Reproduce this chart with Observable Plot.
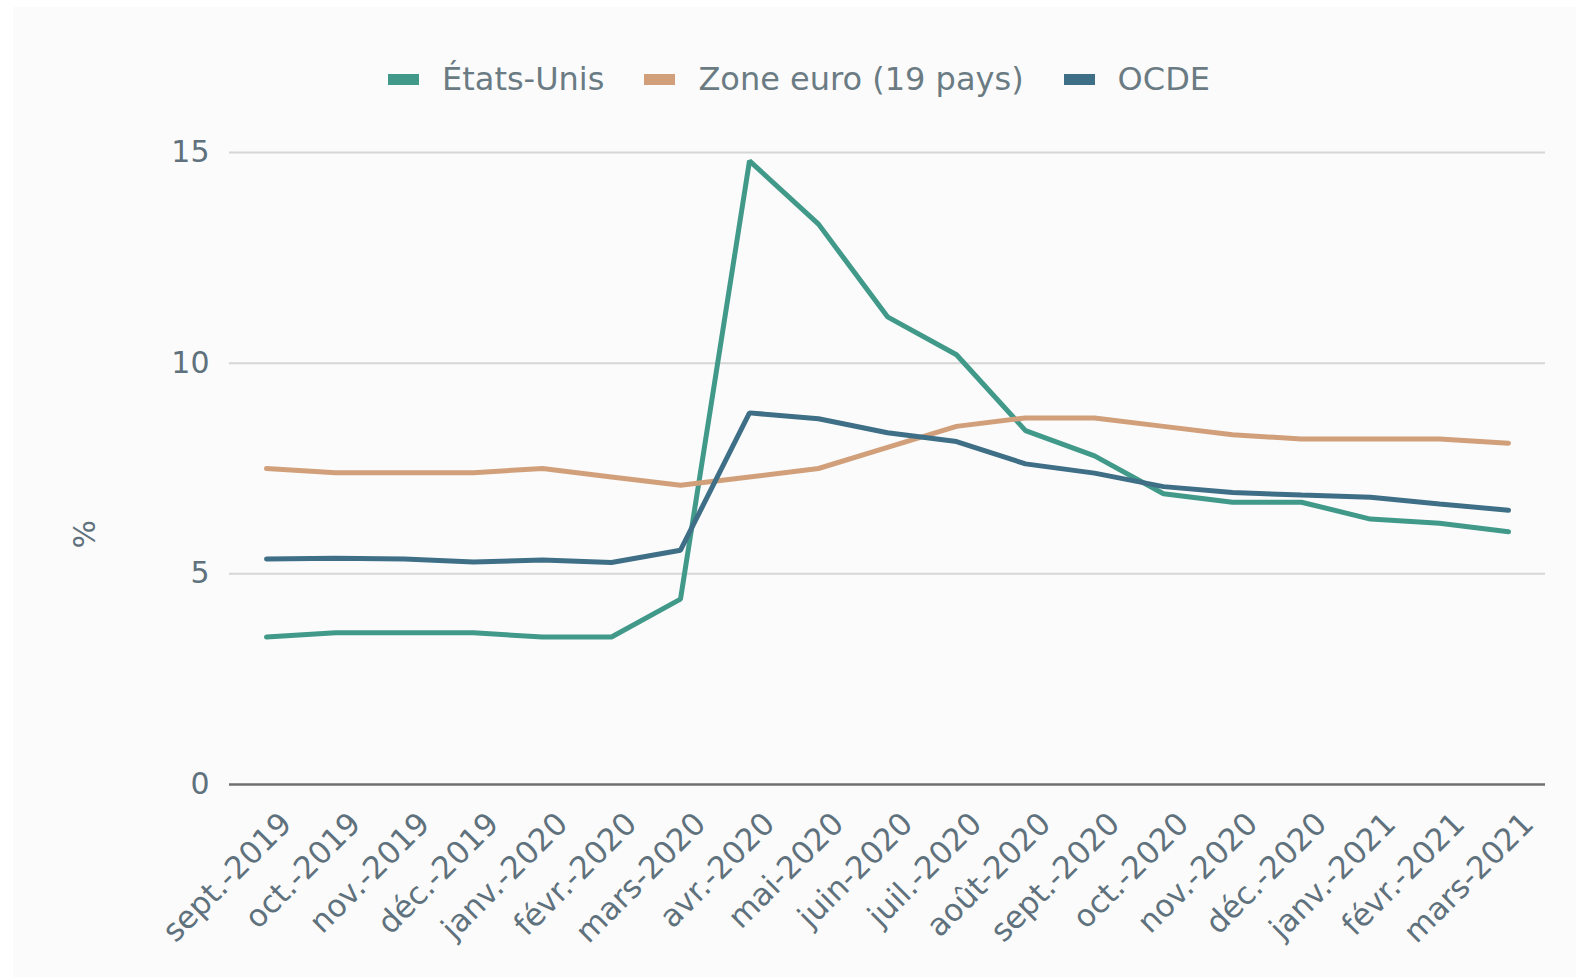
<!DOCTYPE html>
<html>
<head>
<meta charset="utf-8">
<script src="https://cdn.jsdelivr.net/npm/d3@7"></script>
<script src="https://cdn.jsdelivr.net/npm/@observablehq/plot@0.6"></script>
<style>
  html, body { margin: 0; padding: 0; background: #ffffff; }
  #panel { position: absolute; left: 13px; top: 7px; width: 1563px; height: 970px; background: #fbfbfb; }
  #wrap { position: absolute; left: 0; top: 0; width: 1576px; }
  #legend { height: 120px; display: flex; justify-content: center; align-items: flex-start; padding-left: 22px; padding-top: 59px; box-sizing: border-box;
    font-family: "DejaVu Sans", sans-serif; font-size: 32px; line-height: 40px; color: #6b7b83; }
  .item { display: flex; align-items: center; margin: 0 20px; }
  .sw { width: 31px; height: 11px; margin-right: 23px; }
  svg { display: block; }
</style>
</head>
<body>
<div id="panel"></div>
<div id="wrap">
  <div id="legend"></div>
  <div id="chart"></div>
</div>
<script>
const months = ["sept.-2019","oct.-2019","nov.-2019","déc.-2019","janv.-2020","févr.-2020","mars-2020","avr.-2020","mai-2020","juin-2020","juil.-2020","août-2020","sept.-2020","oct.-2020","nov.-2020","déc.-2020","janv.-2021","févr.-2021","mars-2021"];
const seriesNames = ["États-Unis","Zone euro (19 pays)","OCDE"];
const seriesColors = ["#41998a","#d1a07b","#3e6f86"];
const etatsUnis = [3.5,3.6,3.6,3.6,3.5,3.5,4.4,14.8,13.3,11.1,10.2,8.4,7.8,6.9,6.7,6.7,6.3,6.2,6.0];
const zoneEuro  = [7.5,7.4,7.4,7.4,7.5,7.3,7.1,7.3,7.5,8.0,8.5,8.7,8.7,8.5,8.3,8.2,8.2,8.2,8.1];
const ocde      = [5.35,5.37,5.35,5.28,5.33,5.27,5.56,8.82,8.68,8.35,8.14,7.61,7.39,7.07,6.93,6.87,6.82,6.66,6.51];
const yTicks = [0,5,10,15];

const seriesValues = [etatsUnis, zoneEuro, ocde];
const data = [];
seriesNames.forEach((s, i) => months.forEach((m, j) => data.push({series: s, month: m, value: seriesValues[i][j]})));

// legend
const legend = document.getElementById("legend");
seriesNames.forEach((s, i) => {
  const it = document.createElement("div"); it.className = "item";
  const sw = document.createElement("div"); sw.className = "sw"; sw.style.background = seriesColors[i];
  const tx = document.createElement("span"); tx.textContent = s;
  it.appendChild(sw); it.appendChild(tx); legend.appendChild(it);
});

const textColor = "#5e717c";
const chart = Plot.plot({
  width: 1576,
  height: 857,
  marginTop: 32,
  marginBottom: 193,
  marginLeft: 229,
  marginRight: 31,
  style: { background: "transparent", fontFamily: "DejaVu Sans, sans-serif", fontSize: "30px", color: textColor },
  x: { type: "point", domain: months, padding: 0.5, label: null },
  y: { domain: [0, 15], label: null },
  color: { domain: seriesNames, range: seriesColors },
  marks: [
    Plot.gridY(yTicks.filter(d => d > 0), { stroke: "#d6d6d6", strokeOpacity: 1, strokeWidth: 2 }),
    Plot.ruleY([0], { stroke: "#6f6f6f", strokeWidth: 2.5 }),
    Plot.axisY(yTicks, { tickSize: 0, tickPadding: 20, fontSize: 30, label: null, fill: textColor }),
    Plot.axisX(months, { tickSize: 0, tickRotate: -45, tickPadding: 12, dx: 20, dy: 22, fontSize: 31, label: null, fill: textColor }),
    Plot.line(data, { x: "month", y: "value", z: "series", stroke: "series", strokeWidth: 5, strokeLinejoin: "miter" }),
    Plot.text(["%"], { frameAnchor: "left", dx: -144, dy: 80, rotate: -90, text: d => d, fontSize: 30, fill: textColor })
  ]
});
document.getElementById("chart").appendChild(chart);
</script>
</body>
</html>
